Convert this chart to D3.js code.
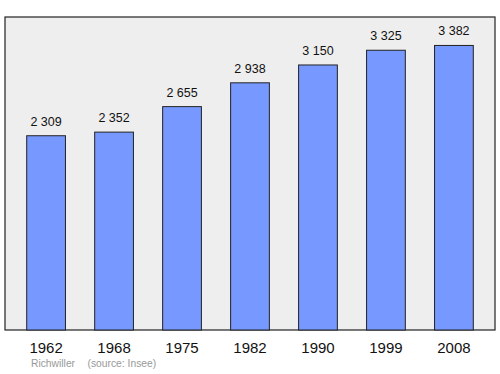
<!DOCTYPE html>
<html><head><meta charset="utf-8">
<script src="https://cdn.jsdelivr.net/npm/d3@7"></script>
<style>body{margin:0;background:#fff}</style>
</head><body>
<script>
const years = ["1962","1968","1975","1982","1990","1999","2008"];
const population = [2309,2352,2655,2938,3150,3325,3382];
const labels = ["2 309","2 352","2 655","2 938","3 150","3 325","3 382"];
const footerName = "Richwiller";
const footerSource = "(source: Insee)";

const W=500,H=374;
const svg=d3.select("body").append("svg").attr("width",W).attr("height",H);
const L=5,R=495,T=17,B=330;
const font="Liberation Sans, Arial, sans-serif";
const x=d3.scaleBand().domain(years).range([L+2,R-2]).paddingInner(0.43).paddingOuter(0.29);
const y=d3.scaleLinear().domain([0,d3.max(population)*1.1]).range([B,T]);

svg.append("rect").attr("x",L).attr("y",T).attr("width",R-L).attr("height",B-T)
  .attr("fill","#eeeeee").attr("stroke","#222").attr("stroke-width",1.2);

svg.selectAll("rect.bar").data(population).join("rect").attr("class","bar")
  .attr("x",(d,i)=>x(years[i])).attr("y",d=>y(d))
  .attr("width",x.bandwidth()).attr("height",d=>B-y(d))
  .attr("fill","#7799ff").attr("stroke","#222").attr("stroke-width",1);

svg.selectAll("text.val").data(population).join("text").attr("class","val")
  .attr("x",(d,i)=>x(years[i])+x.bandwidth()/2).attr("y",d=>y(d)-10)
  .attr("text-anchor","middle").attr("font-family",font)
  .attr("font-size",12.5).attr("fill","#111").text((d,i)=>labels[i]);

const ax=svg.append("g").attr("transform",`translate(0,${B})`).call(d3.axisBottom(x).tickSize(0).tickPadding(12));
ax.select(".domain").remove();
ax.selectAll("text").attr("font-family",font).attr("font-size",15).attr("fill","#111");

svg.append("text").attr("x",31).attr("y",367.3).attr("font-family",font)
  .attr("font-size",10.3).attr("fill","#999").text(footerName);
svg.append("text").attr("x",87.5).attr("y",367.3).attr("font-family",font)
  .attr("font-size",10.3).attr("fill","#999").text(footerSource);
</script>
</body></html>
